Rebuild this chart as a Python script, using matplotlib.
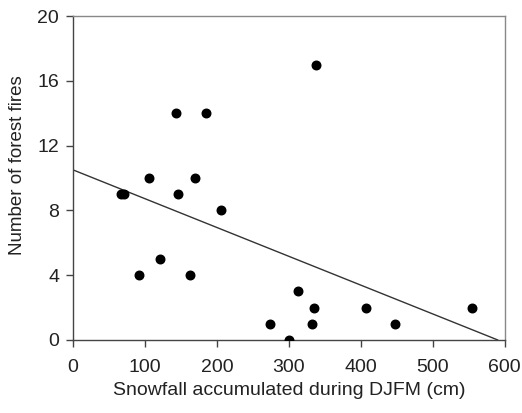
import matplotlib
matplotlib.use('Agg')
import matplotlib.pyplot as plt
import numpy as np

# Snowfall (cm) and number of forest fires.
snowfall = [338, 143, 185, 105, 169, 67, 71, 146, 205, 121, 92, 162,
            313, 335, 273, 332, 300, 407, 555, 447]
fires = [17, 14, 14, 10, 10, 9, 9, 9, 8, 5, 4, 4,
         3, 2, 1, 1, 0, 2, 2, 1]

# Regression line, as drawn in the figure.
fit_intercept = 10.5
fit_slope = -10.5 / 590

x_ticks = [0, 100, 200, 300, 400, 500, 600]
y_ticks = [0, 4, 8, 12, 16, 20]

plt.rcParams['font.family'] = ['Liberation Sans', 'DejaVu Sans']

fig = plt.figure(figsize=(5.22, 4.13), dpi=100)
ax = fig.add_axes([0.140, 0.177, 0.827, 0.784])

ax.scatter(snowfall, fires, s=38, color='black', zorder=3)

x_end = -fit_intercept / fit_slope
line_x = np.array([0, x_end])
ax.plot(line_x, fit_intercept + fit_slope * line_x, color='#333333', lw=1.0)

ax.set_xlim(0, 600)
ax.set_ylim(0, 20)
ax.set_xticks(x_ticks)
ax.set_yticks(y_ticks)
ax.tick_params(direction='out', length=5, width=1, color='#444444',
               labelsize=14, labelcolor='#222222')
ax.tick_params(axis='x', pad=9)
ax.tick_params(axis='y', pad=5)

for side in ['left', 'bottom']:
    ax.spines[side].set_color('#444444')
    ax.spines[side].set_linewidth(1.0)
for side in ['top', 'right']:
    ax.spines[side].set_color('#888888')
    ax.spines[side].set_linewidth(1.0)

ax.set_xlabel('Snowfall accumulated during DJFM (cm)', fontsize=14,
              color='#222222')
ax.set_ylabel('Number of forest fires', fontsize=13.5, color='#222222')
ax.xaxis.set_label_coords(0.5, -0.13)
ax.yaxis.set_label_coords(-0.11, 0.54)

fig.savefig('out.png', dpi=100)
